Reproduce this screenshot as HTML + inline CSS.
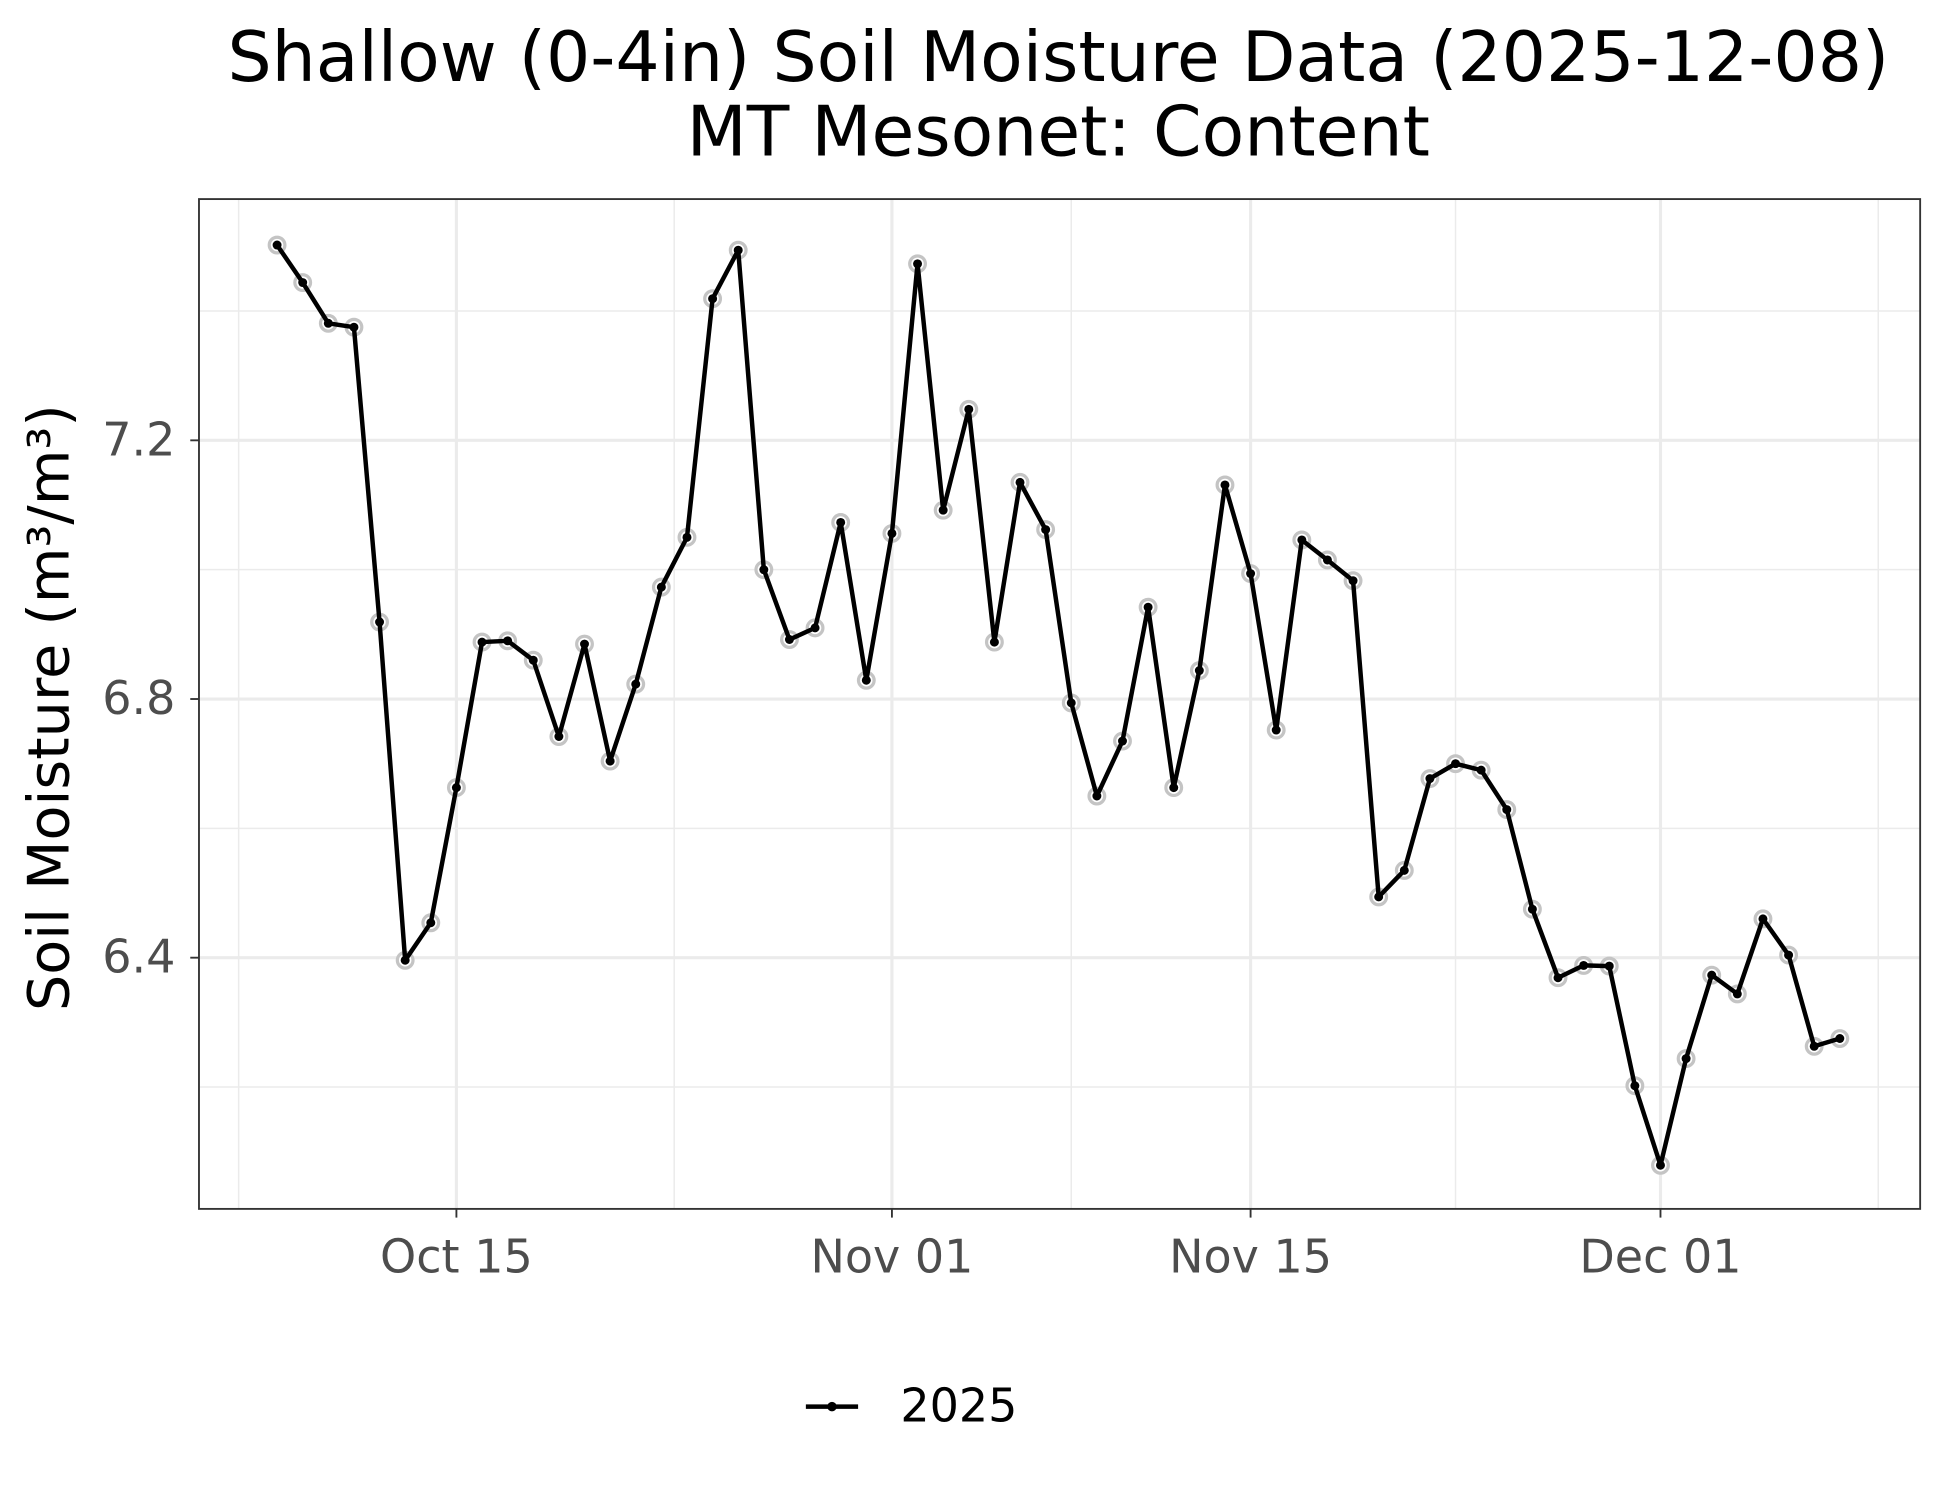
<!DOCTYPE html>
<html><head><meta charset="utf-8"><style>
html,body{margin:0;padding:0;background:#fff;}
svg{display:block;font-family:"DejaVu Sans","Liberation Sans",sans-serif;}
</style></head><body>
<svg id="chart" width="1950" height="1500" viewBox="0 0 1568 1206" xmlns="http://www.w3.org/2000/svg">
<rect width="1568" height="1206" fill="#fff"/>
<text x="851" y="65" font-size="56" text-anchor="middle" fill="#000">Shallow (0-4in) Soil Moisture Data (2025-12-08)</text>
<text x="851" y="125" font-size="56" text-anchor="middle" fill="#000">MT Mesonet: Content</text>
<g id="grid"></g>
<g id="series"></g>
<rect x="160" y="160" width="1384" height="812" fill="none" stroke="#333" stroke-width="1.5"/>
<g id="axes"></g>
<text transform="translate(55,569) rotate(-90)" font-size="46" text-anchor="middle" fill="#000">Soil Moisture (m³/m³)</text>
<g>
<line x1="648" y1="1131" x2="690" y2="1131" stroke="#000" stroke-width="3.6"/>
<circle cx="669" cy="1131" r="3.8" fill="#000"/>
<text x="724" y="1143" font-size="37" fill="#000">2025</text>
</g>
</svg>
<script>
const startDate = "2025-10-08";
const values = [7.502,7.444,7.381,7.375,6.919,6.396,6.454,6.663,6.888,6.890,6.860,6.742,6.885,6.704,6.823,6.973,7.050,7.419,7.494,7.000,6.892,6.910,7.073,6.829,7.056,7.473,7.092,7.248,6.888,7.135,7.062,6.794,6.650,6.735,6.942,6.663,6.844,7.131,6.994,6.752,7.046,7.015,6.983,6.494,6.535,6.677,6.700,6.690,6.629,6.475,6.369,6.388,6.387,6.202,6.079,6.244,6.373,6.344,6.460,6.404,6.263,6.275];
const yTicks = [6.4,6.8,7.2];
const yMinor = [6.2,6.6,7.0,7.4];
const xTickLabels = ["Oct 15","Nov 01","Nov 15","Dec 01"];
const xTickDates = ["2025-10-15","2025-11-01","2025-11-15","2025-12-01"];
const xMinorDates = ["2025-10-06T12:00","2025-10-23T12:00","2025-11-08","2025-11-23","2025-12-09T12:00"];

const NS="http://www.w3.org/2000/svg";
const DAY=86400000;
const t0=Date.parse("2025-10-15T00:00Z");
function xs(d){return 367+(Date.parse(d+(d.length===10?"T00:00Z":"Z"))-t0)/DAY*20.6;}
function xi(i){return xs(startDate)+i*20.6;}
function ys(v){return 354+(7.2-v)*520;}
function mk(tag,attrs,parent){const e=document.createElementNS(NS,tag);for(const k in attrs)e.setAttribute(k,attrs[k]);parent.appendChild(e);return e;}
const grid=document.getElementById('grid'),axes=document.getElementById('axes'),ser=document.getElementById('series');
yMinor.forEach(v=>{const l=mk('line',{x1:160,x2:1544,y1:ys(v),y2:ys(v),stroke:'#ebebeb','stroke-width':1.2},grid);

});
xMinorDates.forEach(d=>{const l=mk('line',{x1:xs(d),x2:xs(d),y1:160,y2:972,stroke:'#ebebeb','stroke-width':1.2},grid);

});
yTicks.forEach(v=>{const l=mk('line',{x1:160,x2:1544,y1:ys(v),y2:ys(v),stroke:'#ebebeb','stroke-width':2.5},grid);


const t=mk('line',{x1:153,x2:160,y1:ys(v),y2:ys(v),stroke:'#333','stroke-width':1.5},axes);


const tx=mk('text',{x:141,y:ys(v)+12,'font-size':37,'text-anchor':'end',fill:'#4d4d4d'},axes);tx.textContent=v.toFixed(1);

});
xTickDates.forEach((d,i)=>{const x=xs(d);const l=mk('line',{x1:x,x2:x,y1:160,y2:972,stroke:'#ebebeb','stroke-width':2.5},grid);


const t=mk('line',{x1:x,x2:x,y1:972,y2:979,stroke:'#333','stroke-width':1.5},axes);


const tx=mk('text',{x:x,y:1023,'font-size':37,'text-anchor':'middle',fill:'#4d4d4d'},axes);tx.textContent=xTickLabels[i];

});
values.forEach((v,i)=>{const c=mk('circle',{cx:xi(i),cy:ys(v),r:6.3,fill:'#fff',stroke:'#c4c4c4','stroke-width':2.6},ser);

});
const pts=values.map((v,i)=>xi(i).toFixed(1)+','+ys(v).toFixed(1)).join(' ');
const pl=mk('polyline',{points:pts,fill:'none',stroke:'#000','stroke-width':3.6,'stroke-linejoin':'round'},ser);


values.forEach((v,i)=>{const c2=mk('circle',{cx:xi(i),cy:ys(v),r:3.6,fill:'#000'},ser);

});
</script>
</body></html>
